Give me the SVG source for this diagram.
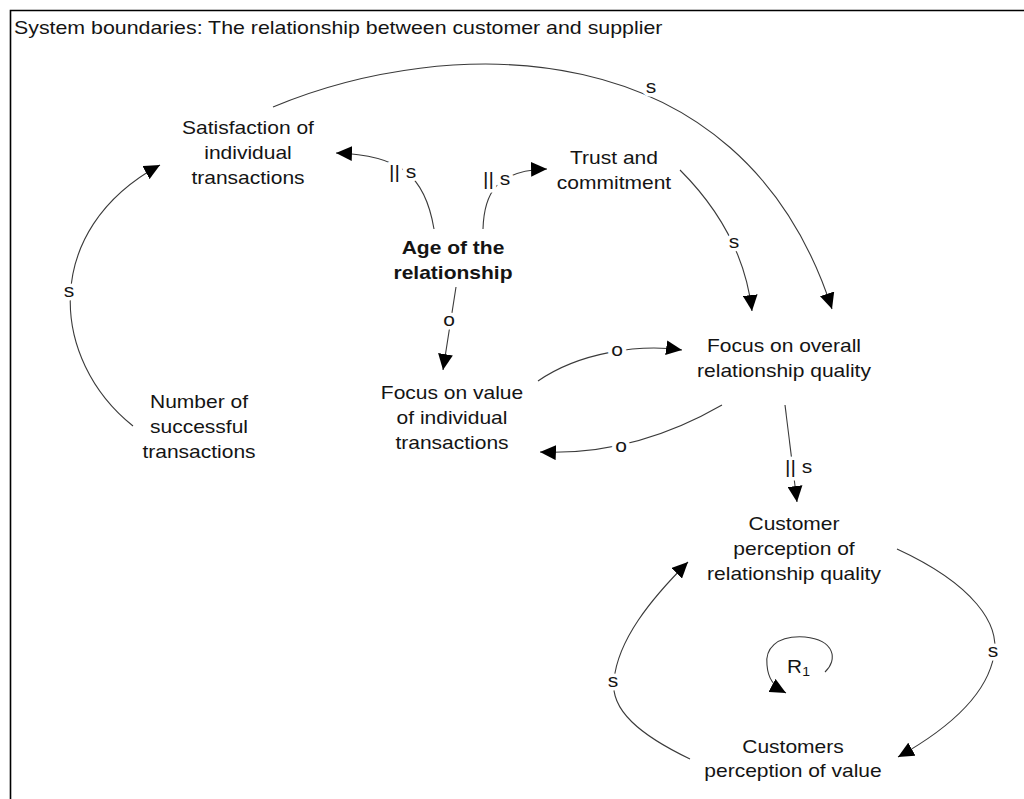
<svg xmlns="http://www.w3.org/2000/svg" width="1024" height="799" viewBox="0 0 1024 799">
<style>
.t{font-family:"Liberation Sans",Arial,sans-serif;font-size:18px;fill:#141414;text-anchor:middle}
.b{font-weight:bold}
.lbl{font-family:"Liberation Sans",Arial,sans-serif;font-size:18px;fill:#141414;paint-order:stroke;stroke:#fff;stroke-width:7px;stroke-linejoin:round}
.c{fill:none;stroke:#3a3a3a;stroke-width:1.1;marker-end:url(#ah)}
.frame{stroke:#000;stroke-width:1.6;fill:none}
</style>
<defs>
<marker id="ah" markerUnits="userSpaceOnUse" markerWidth="17" markerHeight="15" viewBox="0 0 16 14" refX="15" refY="7" orient="auto">
<path d="M0,0 L15,7 L0,14 z" fill="#000"/>
</marker>
</defs>
<rect width="1024" height="799" fill="#fff"/>
<path class="frame" d="M10.5,799 L10.5,10.5 L1024,10.5"/>
<text class="t" style="text-anchor:start" transform="translate(14,34) scale(1.186 1)">System boundaries: The relationship between customer and supplier</text>

<g id="connectors">
<path class="c" d="M273,107 C445,35 740,25 832,309"/>
<path class="c" d="M133,426 C50,360 40,230 160,165"/>
<path class="c" d="M434,229 C425,175 400,155 336,153"/>
<path class="c" d="M483,229 C484,195 495,170 547,169"/>
<path class="c" d="M680,170 C715,205 745,250 752,311"/>
<path class="c" d="M456,287 L443,370"/>
<path class="c" d="M538,381 C580,352 640,344 682,350"/>
<path class="c" d="M722,405 C670,435 610,455 540,452"/>
<path class="c" d="M785,405 L797,502"/>
<path class="c" d="M897,549 C975,585 1000,625 994,655 C988,690 955,725 898,757"/>
<path class="c" d="M690,759 C640,735 610,710 614,680 C618,640 650,600 688,562"/>
<path class="c" d="M825,672 C838,660 835,640 805,637 C775,635 765,650 767,665 C768,678 773,686 786,693"/>
<g id="labels">
<text class="lbl" text-anchor="middle" transform="translate(651,93) scale(1.167 1)">s</text>
<text class="lbl" text-anchor="middle" transform="translate(69,297) scale(1.167 1)">s</text>
<text class="lbl" transform="translate(389,178) scale(1.167 1)">|| s</text>
<text class="lbl" transform="translate(483,185) scale(1.167 1)">|| s</text>
<text class="lbl" text-anchor="middle" transform="translate(734,248) scale(1.167 1)">s</text>
<text class="lbl" text-anchor="middle" transform="translate(449,326) scale(1.167 1)">o</text>
<text class="lbl" text-anchor="middle" transform="translate(617,356) scale(1.167 1)">o</text>
<text class="lbl" text-anchor="middle" transform="translate(621,452) scale(1.167 1)">o</text>
<text class="lbl" transform="translate(785,473) scale(1.167 1)">|| s</text>
<text class="lbl" text-anchor="middle" transform="translate(993,657) scale(1.167 1)">s</text>
<text class="lbl" text-anchor="middle" transform="translate(613,687) scale(1.167 1)">s</text>
<text class="lbl" transform="translate(787,673) scale(1.167 1)">R<tspan font-size="12" dy="3">1</tspan></text>
</g>
</g>

<g id="satisfaction">
<text class="t" transform="translate(248,134) scale(1.167 1)"><tspan x="0" y="0">Satisfaction of</tspan><tspan x="0" y="25">individual</tspan><tspan x="0" y="50">transactions</tspan></text>
</g>
<g id="trust">
<text class="t" transform="translate(614,164) scale(1.167 1)"><tspan x="0" y="0">Trust and</tspan><tspan x="0" y="25">commitment</tspan></text>
</g>
<g id="age">
<text class="t b" transform="translate(453,254) scale(1.167 1)"><tspan x="0" y="0">Age of the</tspan><tspan x="0" y="25">relationship</tspan></text>
</g>
<g id="focus-value">
<text class="t" transform="translate(452,399) scale(1.167 1)"><tspan x="0" y="0">Focus on value</tspan><tspan x="0" y="25">of individual</tspan><tspan x="0" y="50">transactions</tspan></text>
</g>
<g id="focus-overall">
<text class="t" transform="translate(784,352) scale(1.167 1)"><tspan x="0" y="0">Focus on overall</tspan><tspan x="0" y="25">relationship quality</tspan></text>
</g>
<g id="number">
<text class="t" transform="translate(199,408) scale(1.167 1)"><tspan x="0" y="0">Number of</tspan><tspan x="0" y="25">successful</tspan><tspan x="0" y="50">transactions</tspan></text>
</g>
<g id="customer-perception-quality">
<text class="t" transform="translate(794,530) scale(1.167 1)"><tspan x="0" y="0">Customer</tspan><tspan x="0" y="25">perception of</tspan><tspan x="0" y="50">relationship quality</tspan></text>
</g>
<g id="customers-perception-value">
<text class="t" transform="translate(793,753) scale(1.167 1)"><tspan x="0" y="0">Customers</tspan><tspan x="0" y="24">perception of value</tspan></text>
</g>
</svg>
